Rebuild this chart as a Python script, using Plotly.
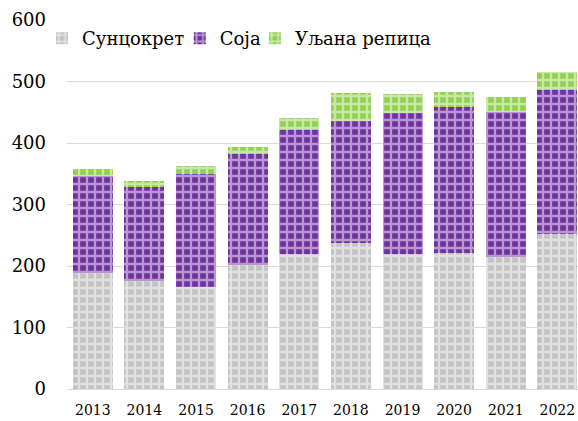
import plotly.graph_objects as go

years = ["2013", "2014", "2015", "2016", "2017", "2018", "2019", "2020", "2021", "2022"]
suncokret = [188, 175, 166, 201, 220, 238, 220, 221, 214, 252]
soja = [159, 153, 184, 181, 201, 198, 229, 238, 237, 235]
uljana_repica = [10, 11, 13, 12, 20, 46, 31, 24, 23, 29]

names = ["Сунцокрет", "Соја", "Уљана репица"]
colors = ["#c3c3c3", "#7030a0", "#92d050"]
series = [suncokret, soja, uljana_repica]
legend_ids = ["legend", "legend2", "legend3"]
legend_x = [0.0727, 0.311, 0.441]

FONT = "DejaVu Serif"

fig = go.Figure()
for name, vals, col, lid in zip(names, series, colors, legend_ids):
    fig.add_trace(go.Bar(
        x=years, y=vals, name=name, legend=lid, showlegend=True,
        marker=dict(
            color=col,
            line=dict(width=0),
            pattern=dict(shape="+", fgcolor="white", bgcolor=col, size=8, solidity=0.5),
        ),
    ))

leg_common = dict(
    orientation="h", xref="container", y=1.0, xanchor="left", yanchor="top",
    font=dict(size=18, family=FONT), bgcolor="rgba(0,0,0,0)", itemwidth=30,
)

fig.update_layout(
    showlegend=True,
    barmode="stack",
    bargap=0.225,
    width=578, height=421,
    margin=dict(l=67, r=0, t=20, b=32, autoexpand=False),
    paper_bgcolor="white",
    plot_bgcolor="white",
    font=dict(family=FONT, color="#000000"),
    legend=dict(x=legend_x[0], **leg_common),
    legend2=dict(x=legend_x[1], **leg_common),
    legend3=dict(x=legend_x[2], **leg_common),
    xaxis=dict(
        type="category", range=[-0.5, 9.4], automargin=False,
        showline=True, linecolor="#d9d9d9", linewidth=1,
        ticks="", tickfont=dict(size=14, family=FONT), ticklabelstandoff=8,
        showgrid=False,
    ),
    yaxis=dict(
        range=[0, 600], dtick=100, automargin=False,
        showgrid=True, gridcolor="#d9d9d9", gridwidth=1,
        zeroline=False, showline=False, ticks="",
        tickfont=dict(size=18, family=FONT), ticklabelstandoff=20,
    ),
)

fig.write_html(
    "out.html",
    config={"displayModeBar": False},
    post_script="document.body.style.margin='0';document.body.style.padding='0';",
)
